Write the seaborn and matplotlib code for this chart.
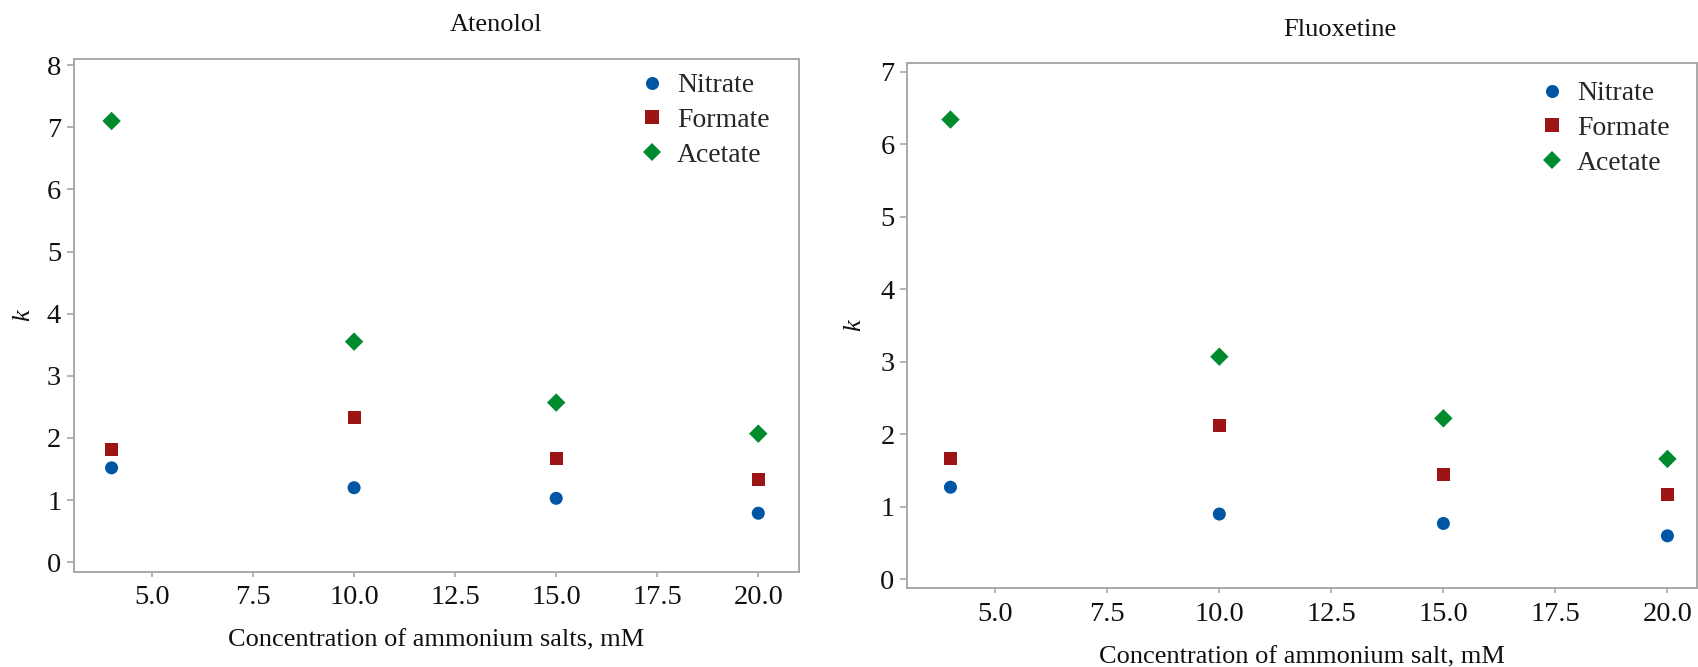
import matplotlib
matplotlib.use("Agg")
import matplotlib.pyplot as plt
import seaborn as sns
import pandas as pd

# ---- data ----
concentrations = [4, 10, 15, 20]
salts = ["Nitrate", "Formate", "Acetate"]

atenolol_nitrate = [1.52, 1.20, 1.03, 0.79]
atenolol_formate = [1.81, 2.33, 1.67, 1.34]
atenolol_acetate = [7.10, 3.55, 2.57, 2.07]

fluoxetine_nitrate = [1.27, 0.90, 0.77, 0.60]
fluoxetine_formate = [1.66, 2.12, 1.44, 1.17]
fluoxetine_acetate = [6.34, 3.07, 2.22, 1.66]

x_ticks = [5.0, 7.5, 10.0, 12.5, 15.0, 17.5, 20.0]
x_tick_labels = ["5.0", "7.5", "10.0", "12.5", "15.0", "17.5", "20.0"]

colors = {"Nitrate": "#0055A5", "Formate": "#9C1414", "Acetate": "#008A2E"}
markers = {"Nitrate": "o", "Formate": "s", "Acetate": "D"}


def make_df(n, f, a):
    rows = []
    for name, vals in zip(salts, [n, f, a]):
        for c, v in zip(concentrations, vals):
            rows.append({"conc": c, "k": v, "salt": name})
    return pd.DataFrame(rows)


df_at = make_df(atenolol_nitrate, atenolol_formate, atenolol_acetate)
df_fl = make_df(fluoxetine_nitrate, fluoxetine_formate, fluoxetine_acetate)

sns.set_theme(style="white")
plt.rcParams["font.family"] = ["Liberation Serif", "DejaVu Serif"]

W, H = 1698, 667
fig = plt.figure(figsize=(W / 100, H / 100), dpi=100)


def px_axes(l, t, r, b):
    return fig.add_axes([l / W, 1 - b / H, (r - l) / W, (b - t) / H])


ax1 = px_axes(73.7, 59.0, 798.7, 571.7)
ax2 = px_axes(907.0, 62.7, 1697.0, 588.3)

spine_col = "#A8A8A8"

panels = [
    (ax1, df_at, (3.063, 21.0), (-0.151, 8.097), list(range(0, 9)),
     "Concentration of ammonium salts, mM", "Atenolol", 496, 25, (641, 73), 9),
    (ax2, df_fl, (3.03, 20.66), (-0.124, 7.124), list(range(0, 8)),
     "Concentration of ammonium salt, mM", "Fluoxetine", 1340, 30, (1541, 81), 11),
]

for ax, df, xl, yl, yt, xlabel, title, tx, ty, legpos, ylpad in panels:
    sns.scatterplot(data=df, x="conc", y="k", hue="salt", style="salt",
                    palette=colors, markers=markers, hue_order=salts,
                    style_order=salts, s=88, linewidth=0, ax=ax)
    ax.set_xlim(*xl)
    ax.set_ylim(*yl)
    ax.set_xticks(x_ticks)
    ax.set_xticklabels(x_tick_labels)
    ax.set_yticks(yt)
    ax.set_yticklabels([str(v) for v in yt])
    for sp in ax.spines.values():
        sp.set_color(spine_col)
        sp.set_linewidth(1.4)
        sp.set_visible(True)
    ax.tick_params(axis="y", which="major", direction="out", length=5,
                   width=1.2, color=spine_col, labelsize=20.5, pad=4,
                   left=True, labelcolor="#111111")
    ax.tick_params(axis="x", which="major", direction="out", length=3.6,
                   width=1.2, color=spine_col, labelsize=20.5, pad=6,
                   bottom=True, labelcolor="#111111")
    ax.set_xlabel(xlabel, fontsize=19, labelpad=14, color="#111111")
    ax.set_ylabel("k", fontsize=19, style="italic", labelpad=ylpad,
                  color="#111111")
    fig.text(tx / W, 1 - ty / H, title, ha="center", va="center",
             fontsize=19, color="#111111")
    handles, labels = ax.get_legend_handles_labels()
    ax.legend(handles, labels, loc="upper left",
              bbox_to_anchor=(legpos[0] / W, 1 - legpos[1] / H),
              bbox_transform=fig.transFigure, frameon=False, fontsize=20,
              handlelength=0.8, handletextpad=0.5, labelspacing=0.33,
              borderpad=0, borderaxespad=0, markerscale=1.0)

fig.savefig("out.png", dpi=100)
